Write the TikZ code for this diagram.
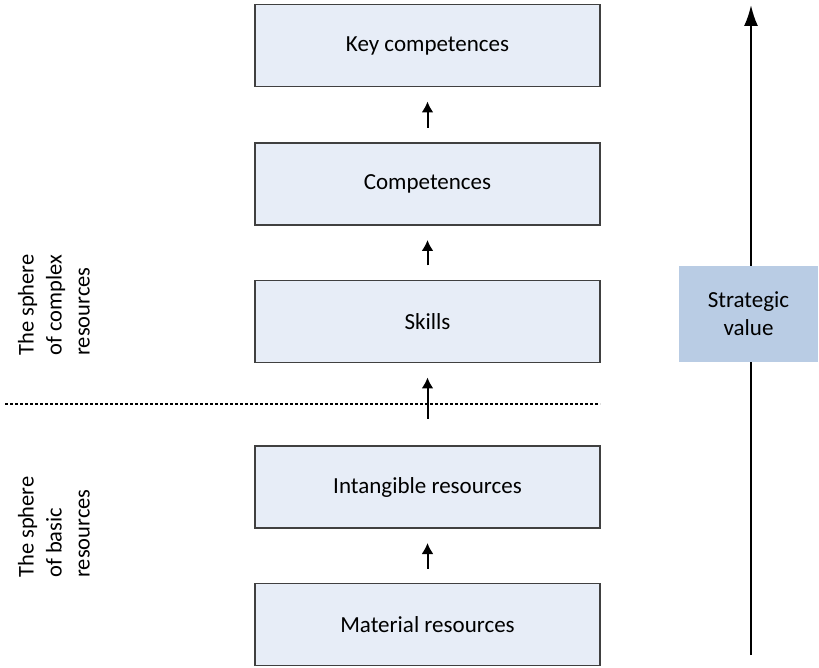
\documentclass[tikz,border=0pt]{standalone}
\usepackage{fontspec}
\setmainfont{Carlito}
\usetikzlibrary{positioning,arrows.meta}
\definecolor{boxfill}{HTML}{E7EDF7}
\definecolor{valuefill}{HTML}{B9CCE4}
\begin{document}
\begin{tikzpicture}[x=1pt, y=1pt,
	res/.style   = {draw=black!75, line width=1.2pt, fill=boxfill, minimum width=345pt, minimum height=82pt, outer sep=0pt, font=\fontsize{23}{28}\selectfont},
	value/.style = {fill=valuefill, minimum width=139pt, minimum height=96pt, align=center, font=\fontsize{23}{28}\selectfont},
	sphere/.style = {rotate=90, align=left, font=\fontsize{22.5}{28}\selectfont},
	step arrow/.style = {->, line width=2pt},
	>={Latex[length=11pt, width=12pt]}]

	\useasboundingbox (0,0) rectangle (819,667);

	% the resources, from the bottom up
	\node[res] (mat) at (427.5,42.5) {Material resources};
	\node[res] (intang) at (427.5,180) {Intangible resources};
	\node[res] (skills) at (427.5,345.5) {Skills};
	\node[res] (comp) at (427.5,483) {Competences};
	\node[res] (key) at (427.5,621.5) {Key competences};

	% small arrows between the boxes
	\foreach \low/\high/\gap in {mat/intang/15, intang/skills/27, skills/comp/15, comp/key/15}
	\draw[step arrow] ([yshift=\gap pt]\low.north) -- ([yshift=-15pt]\high.south);

	% border of the two spheres
	\coordinate (border west) at (5,263);
	\coordinate (border east) at (mat.east |- border west);
	\draw[line width=1.6pt, dash pattern=on 3pt off 2pt] (border west) -- (border east);

	\node[sphere] (complex) at (54,362) {The sphere\\of complex\\resources};
	\node[sphere] (basic) at (54,140) {The sphere\\of basic\\resources};

	% strategic value axis
	\coordinate (axis bottom) at (751,12);
	\coordinate (axis top) at (751,662);
	\draw[->, line width=2.2pt, >={Latex[length=21pt, width=14pt]}] (axis bottom) -- (axis top);
	\node[value] (strat) at (748.5,353) {Strategic\\value};
\end{tikzpicture}
\end{document}
